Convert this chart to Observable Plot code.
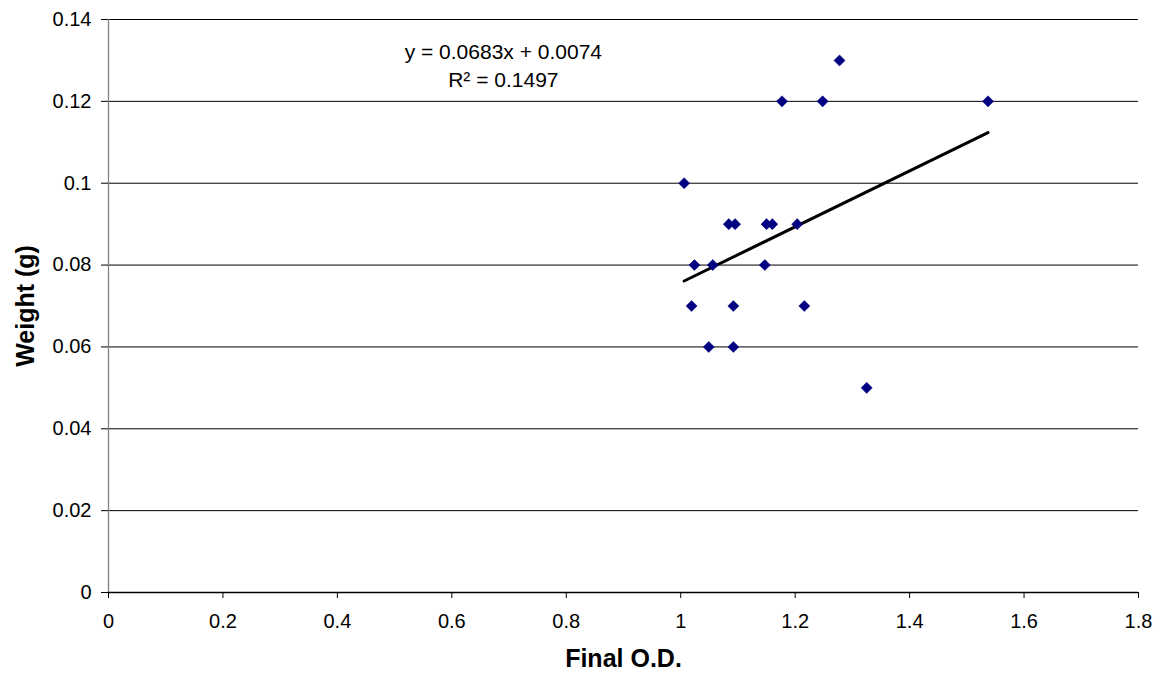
<!DOCTYPE html>
<html>
<head>
<meta charset="utf-8">
<script src="https://cdn.jsdelivr.net/npm/d3@7"></script>
<script src="https://cdn.jsdelivr.net/npm/@observablehq/plot@0.6"></script>
<style>
  html, body { margin: 0; padding: 0; background: #fff; }
  #chart { width: 1159px; height: 681px; }
  svg { font-family: "Liberation Sans", Arial, sans-serif; }
</style>
</head>
<body>
<div id="chart"></div>
<script>
// Data
const finalOD = [1.006, 1.084, 1.095, 1.150, 1.160, 1.2035, 1.024, 1.056, 1.147, 1.019, 1.092, 1.216, 1.049, 1.092, 1.325, 1.2775, 1.177, 1.248, 1.537];
const weightG = [0.10, 0.09, 0.09, 0.09, 0.09, 0.09, 0.08, 0.08, 0.08, 0.07, 0.07, 0.07, 0.06, 0.06, 0.05, 0.13, 0.12, 0.12, 0.12];
const xTicks = [0, 0.2, 0.4, 0.6, 0.8, 1, 1.2, 1.4, 1.6, 1.8];
const yTicks = [0, 0.02, 0.04, 0.06, 0.08, 0.1, 0.12, 0.14];
const trendSlope = 0.0683;
const trendIntercept = 0.0074;
const equationLabel = "y = 0.0683x + 0.0074";
const r2Label = "R\u00B2 = 0.1497";
const labelAt = {x: 0.69, y: 0.132};

const points = finalOD.map((x, i) => ({x, y: weightG[i]}));
const xMin = d3.min(finalOD), xMax = d3.max(finalOD);
const trend = [xMin, xMax].map(x => ({x, y: trendSlope * x + trendIntercept}));
const fmt = d => String(+d.toFixed(2));

const chart = Plot.plot({
  width: 1159,
  height: 681,
  marginLeft: 108,
  marginRight: 21,
  marginTop: 19,
  marginBottom: 89,
  style: {fontFamily: '"Liberation Sans", Arial, sans-serif', fontSize: "20px", color: "#000", background: "#fff"},
  x: {domain: [0, 1.8], ticks: xTicks, tickFormat: fmt, label: null},
  y: {domain: [0, 0.14], ticks: yTicks, tickFormat: fmt, label: null},
  marks: [
    Plot.gridY(yTicks.filter(d => d > 0), {stroke: "#000", strokeOpacity: 1, strokeWidth: 1}),
    Plot.ruleX([0], {stroke: "#808080", strokeWidth: 1.3}),
    Plot.ruleY([0], {stroke: "#000", strokeWidth: 1.3}),
    Plot.axisX({ticks: xTicks, tickFormat: fmt, tickSize: 6, tickPadding: 15, stroke: "#000", fontSize: 20}),
    Plot.axisY({ticks: yTicks, tickFormat: fmt, tickSize: 7, tickPadding: 10, stroke: "#000", fontSize: 20}),
    Plot.line(trend, {x: "x", y: "y", stroke: "#000", strokeWidth: 3}),
    Plot.dot(points, {x: "x", y: "y", symbol: "diamond2", r: 5, fill: "#000080", stroke: "#000080", strokeWidth: 0.5}),
    Plot.text([equationLabel], {x: labelAt.x, y: labelAt.y, text: d => d, fontSize: 21, fill: "#000"}),
    Plot.text([r2Label], {x: labelAt.x, y: labelAt.y, dy: 28, text: d => d, fontSize: 21, fill: "#000"}),
    Plot.text(["Final O.D."], {frameAnchor: "bottom", dy: 74, text: d => d, fontSize: 25, fontWeight: "bold", fill: "#000"}),
    Plot.text(["Weight (g)"], {frameAnchor: "left", dx: -83, rotate: -90, textAnchor: "middle", text: d => d, fontSize: 25, fontWeight: "bold", fill: "#000"})
  ]
});
document.getElementById("chart").appendChild(chart);
</script>
</body>
</html>
